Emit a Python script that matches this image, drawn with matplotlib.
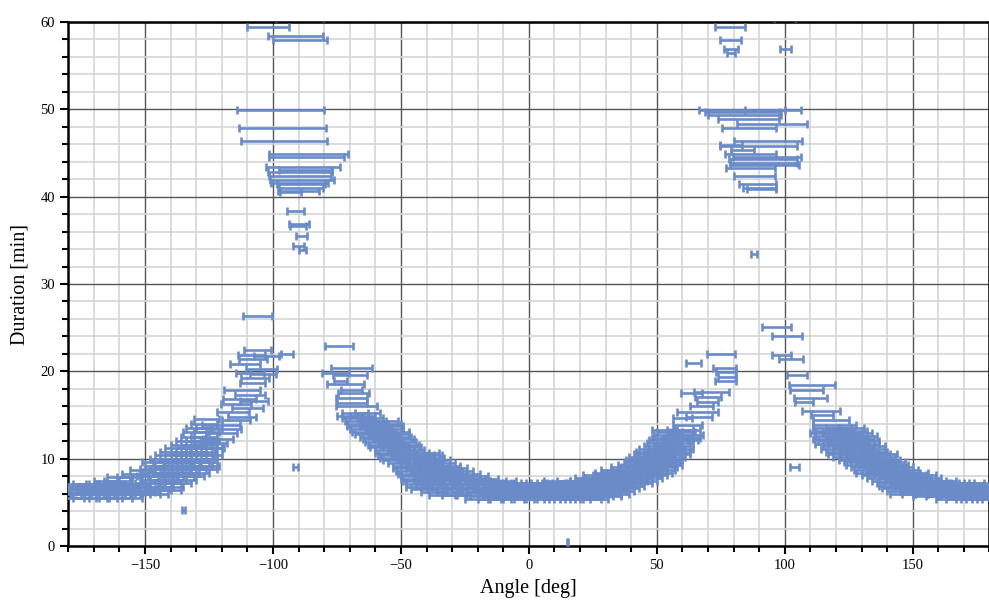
import numpy as np
import matplotlib
matplotlib.use('Agg')
import matplotlib.pyplot as plt
from matplotlib.ticker import MultipleLocator

# dense part of the bands: (duration [min], bar centres [deg]), half width 5 deg
band_width = 5.0
band_rows = [
    # left flat part
    (7.1, [-177, -173, -168, -164, -160, -156, -153]),
    (6.8, [-179, -175, -171, -166, -162, -158, -154]),
    (6.5, [-178, -174, -169, -165, -161, -157]),
    (6.2, [-176, -172, -168, -163, -159, -155, -151]),
    (5.9, [-179, -174, -170, -166, -161, -157, -153]),
    (5.5, [-177, -173, -169, -164, -160, -156]),
    (7.5, [-165, -161]), (7.9, [-160, -156]), (8.3, [-154]), (8.7, [-151]),
    # left rise
    (6.0, [-149, -146]),
    (6.4, [-150, -145, -141]),
    (6.8, [-148, -144, -140]),
    (7.2, [-149, -145, -141, -137]),
    (7.6, [-147, -143, -139, -135]),
    (8.0, [-148, -144, -140, -136, -132]),
    (8.4, [-146, -142, -138, -134, -130]),
    (8.8, [-147, -143, -139, -135, -131, -127]),
    (9.2, [-145, -141, -137, -133, -129, -126]),
    (9.6, [-146, -142, -138, -134, -130, -127]),
    (10.0, [-143, -139, -135, -131, -127]),
    (10.4, [-141, -137, -133, -129, -125]),
    (10.8, [-139, -135, -131, -127]),
    (11.2, [-137, -133, -129, -125]),
    (11.6, [-135, -131, -127]),
    (12.0, [-133, -129, -126]),
    (12.5, [-131, -127]),
    (13.0, [-130, -126]),
    (13.5, [-129, -125]),
    (14.0, [-127]),
    (14.5, [-126]),
    # left fall
    (15.2, [-68, -63]),
    (14.9, [-70, -65]),
    (14.6, [-68, -62]),
    (14.3, [-67, -61, -56]),
    (14.0, [-66, -60, -55]),
    (13.7, [-66, -61, -54]),
    (13.4, [-65, -59, -54]),
    (13.1, [-64, -58, -52]),
    (12.8, [-63, -57, -52]),
    (12.5, [-61, -56, -51]),
    (12.2, [-60, -55, -50]),
    (11.9, [-59, -54, -49]),
    (11.6, [-58, -53, -48]),
    (11.3, [-57, -52, -47]),
    (11.0, [-55, -50, -46]),
    (10.7, [-55, -49, -44, -40]),
    (10.4, [-54, -48, -42, -39]),
    (10.1, [-53, -47, -42, -38]),
    (9.8, [-52, -46, -40, -36]),
    (9.5, [-50, -45, -39, -34]),
    (9.2, [-48, -42, -36, -32]),
    (8.9, [-48, -43, -37, -32, -29]),
    (8.6, [-47, -41, -35, -31, -27]),
    (8.3, [-46, -40, -34, -29, -24]),
    (8.0, [-45, -39, -33, -27, -21]),
    (7.7, [-45, -40, -34, -28, -22, -17]),
    (7.4, [-44, -38, -32, -26, -20]),
    (7.1, [-43, -39, -34, -29, -23, -18]),
    (6.8, [-43, -37, -31, -25, -19]),
    (6.5, [-41, -35, -29, -23, -17]),
    (6.2, [-37, -31, -25, -19]),
    (5.8, [-34, -29, -23]),
    # centre
    (7.5, [-14, -10, 11, 16]),
    (7.2, [-15, -11, -6, -2, 2, 6, 10, 14]),
    (6.9, [-13, -9, -4, 0, 4, 8, 12, 16]),
    (6.6, [-16, -12, -7, -3, 1, 5, 9, 13]),
    (6.3, [-14, -10, -6, -1, 3, 7, 11, 15]),
    (6.0, [-15, -11, -7, -3, 2, 6, 10, 14]),
    (5.7, [-18, -13, -8, -4, 0, 4, 8, 12, 16]),
    (5.4, [-20, -15, -11, -6, -2, 3, 7, 11, 15]),
    # right rise
    (5.4, [19, 23, 26]),
    (5.7, [20, 24, 28, 31]),
    (6.0, [19, 23, 27, 31, 34]),
    (6.3, [21, 25, 29, 33, 36]),
    (6.6, [18, 22, 26, 30, 34, 38]),
    (6.9, [20, 24, 28, 32, 36, 40]),
    (7.2, [19, 23, 27, 31, 35, 39, 43]),
    (7.5, [21, 25, 29, 33, 37, 41, 45]),
    (7.8, [23, 27, 31, 35, 39, 43, 47]),
    (8.1, [26, 30, 34, 38, 42, 46, 49]),
    (8.4, [31, 35, 39, 43, 47, 51]),
    (8.7, [33, 37, 41, 45, 49, 52]),
    (9.0, [37, 41, 45, 49, 53]),
    (9.3, [40, 44, 48, 52, 55]),
    (9.6, [42, 46, 50, 54]),
    (9.9, [43, 47, 51, 55]),
    (10.2, [44, 48, 52, 56]),
    (10.5, [46, 50, 54, 58]),
    (10.8, [47, 51, 55, 58]),
    (11.1, [48, 52, 56, 59]),
    (11.5, [50, 54, 58]),
    (11.8, [51, 55, 59]),
    (12.1, [52, 57, 61]),
    (12.4, [53, 58, 62]),
    (12.7, [54, 59, 63]),
    (13.0, [55, 60]),
    (13.3, [53, 59, 62]),
    # right fall
    (13.5, [116, 121, 126]),
    (13.2, [117, 122, 127]),
    (12.9, [115, 120, 125, 129]),
    (12.6, [117, 122, 127, 131]),
    (12.3, [116, 121, 126, 130]),
    (12.0, [118, 123, 128, 132]),
    (11.7, [117, 122, 127, 132]),
    (11.4, [120, 125, 130, 134]),
    (11.1, [119, 124, 129, 134]),
    (10.8, [121, 126, 131, 135]),
    (10.5, [122, 127, 132, 136, 139]),
    (10.2, [124, 129, 134, 138]),
    (9.9, [126, 131, 136, 140]),
    (9.6, [128, 133, 138, 142]),
    (9.3, [129, 134, 139, 143]),
    (9.0, [131, 136, 141, 145]),
    (8.7, [132, 137, 142, 147]),
    (8.4, [133, 138, 143, 148, 151]),
    (8.1, [135, 140, 145, 150, 154]),
    (7.8, [137, 142, 147, 152, 156]),
    (7.5, [139, 144, 149, 154, 158, 162]),
    (7.2, [141, 146, 150, 155, 160, 165, 169, 173, 177]),
    (6.9, [142, 147, 152, 157, 162, 166, 171, 175, 179]),
    (6.6, [143, 148, 153, 158, 163, 167, 172, 176, 180]),
    (6.3, [145, 150, 155, 160, 164, 169, 174, 178]),
    (6.0, [146, 151, 156, 161, 166, 170, 175, 179]),
    (5.7, [155, 160, 165, 169, 174, 178]),
    (5.4, [164, 168, 172, 176, 180]),
]

# single bars: (angle [deg], half width [deg], duration [min])
left_rise = [
    (-106.1, 5.6, 26.3), (-106.1, 5.2, 22.4), (-94.4, 2.3, 22.0), (-108.5, 5.3, 21.9), (-102.5, 5.0, 21.8),
    (-107.8, 5.6, 21.4), (-111.0, 5.8, 20.8), (-104.5, 6.0, 20.3), (-109.0, 5.5, 19.8), (-104.0, 5.0, 19.7),
    (-107.0, 5.6, 19.2), (-108.0, 5.0, 18.7), (-112.0, 7.0, 17.9), (-109.0, 6.0, 17.3), (-113.0, 6.5, 16.8),
    (-107.5, 5.5, 16.6), (-114.5, 6.0, 16.3), (-110.0, 6.0, 15.8), (-115.5, 6.2, 15.3), (-112.0, 5.5, 14.8),
    (-114.5, 5.5, 14.4), (-120.4, 7.5, 13.9), (-118.5, 6.0, 13.4), (-120.0, 6.0, 12.9), (-121.5, 6.0, 12.3),
    (-123.5, 5.5, 11.8), (-124.5, 5.5, 11.2), (-127.5, 5.0, 10.6), (-128.5, 5.5, 10.0),
]
left_fall = [
    (-74.2, 5.4, 22.9), (-69.4, 8.1, 20.4), (-75.5, 5.2, 19.8), (-69.8, 6.6, 19.6), (-73.6, 2.5, 18.9),
    (-71.8, 7.2, 18.5), (-69.5, 4.1, 17.9), (-68.6, 6.0, 17.5), (-69.2, 6.0, 16.9), (-69.0, 5.8, 16.4),
    (-67.5, 8.0, 16.0),
]
left_top = [
    (-102.0, 8.2, 59.4), (-89.7, 9.1, 60.5), (-79.0, 5.9, 60.6), (-91.2, 10.7, 58.4), (-89.5, 10.6, 57.9),
    (-97.1, 17.1, 49.9), (-96.3, 17.0, 47.9), (-95.7, 16.8, 46.4), (-86.2, 15.4, 44.9), (-86.9, 14.6, 44.5),
    (-88.2, 14.4, 43.4), (-87.3, 10.4, 43.1), (-89.5, 12.5, 42.8), (-89.6, 12.1, 42.4), (-88.5, 12.5, 41.9),
    (-89.6, 11.1, 41.6), (-88.9, 9.4, 41.4), (-89.0, 8.6, 41.0), (-89.9, 8.0, 40.7), (-93.2, 4.2, 40.5),
    (-91.3, 3.4, 38.4), (-89.9, 3.9, 36.9), (-90.2, 3.2, 36.6), (-88.9, 2.2, 35.5), (-90.0, 2.0, 34.4),
    (-88.5, 1.4, 33.9),
]
right_rise = [
    (75.0, 5.5, 22.0), (64.3, 3.0, 20.9), (76.5, 4.5, 20.4), (77.0, 4.0, 19.9), (77.5, 3.6, 19.4),
    (76.8, 4.0, 18.9), (63.5, 4.0, 17.5), (71.5, 6.8, 17.6), (70.0, 5.2, 17.1), (69.8, 4.2, 16.5),
    (67.5, 4.6, 16.0), (65.8, 8.0, 15.4), (60.0, 3.8, 14.7), (66.5, 5.0, 14.8), (62.0, 5.5, 13.9),
]
right_fall = [
    (96.8, 5.6, 25.1), (101.0, 5.8, 24.0), (98.9, 3.7, 21.9), (102.4, 4.7, 21.4), (104.6, 3.9, 19.6),
    (110.5, 9.0, 18.4), (108.5, 6.5, 17.9), (110.0, 6.4, 16.9), (107.5, 3.5, 16.5), (114.2, 7.3, 15.5),
    (114.5, 4.2, 15.0), (118.0, 7.0, 14.4), (119.5, 8.3, 13.8),
]
right_top = [
    (78.6, 5.9, 59.4), (99.8, 4.1, 60.5), (78.7, 4.1, 57.9), (78.9, 2.7, 56.9), (78.9, 1.6, 56.4),
    (100.2, 2.1, 56.9), (83.2, 16.8, 49.9), (95.4, 11.0, 49.95), (83.5, 14.6, 49.7), (84.3, 14.2, 49.4),
    (85.8, 12.0, 48.9), (95.0, 13.6, 48.3), (86.0, 10.6, 47.9), (93.5, 13.4, 46.4), (79.0, 4.2, 45.9),
    (89.8, 15.0, 45.8), (83.3, 4.5, 45.3), (86.6, 10.0, 44.9), (93.0, 13.4, 44.6), (91.5, 13.3, 44.3),
    (91.6, 13.1, 43.9), (92.0, 13.5, 43.6), (86.6, 9.5, 43.3), (88.1, 8.0, 42.4), (89.3, 7.2, 41.4),
    (90.1, 6.4, 41.0), (91.0, 5.6, 40.9), (88.0, 1.3, 33.4),
]
outliers = [(-91.1, 1.0, 9.0), (-135.0, 0.6, 4.1), (103.9, 1.7, 9.0), (15.1, 0.05, 0.5)]

ang, err, dur = [], [], []
for d, centres in band_rows:
    for c in centres:
        ang.append(c)
        err.append(band_width)
        dur.append(d)
for group in [left_rise, left_fall, left_top, right_rise, right_fall, right_top, outliers]:
    for a, e, d in group:
        ang.append(a)
        err.append(e)
        dur.append(d)
ang = np.array(ang)
err = np.array(err)
dur = np.array(dur)

plt.rcParams['font.family'] = ['Liberation Serif', 'DejaVu Serif']

fig = plt.figure(figsize=(9.89, 6.0), dpi=100)
ax = fig.add_axes([0.069, 0.09, 0.9315, 0.8733])

ax.errorbar(ang, dur, xerr=err, fmt='none', ecolor='#6a8bc8', elinewidth=1.9,
            capsize=3.1, capthick=1.9, zorder=3)

ax.set_xlim(-180, 180)
ax.set_ylim(0, 60)
ax.xaxis.set_major_locator(MultipleLocator(50))
ax.xaxis.set_minor_locator(MultipleLocator(10))
ax.yaxis.set_major_locator(MultipleLocator(10))
ax.yaxis.set_minor_locator(MultipleLocator(2))

ax.grid(which='major', color='#555555', linewidth=1.0, zorder=1)
ax.grid(which='minor', color='#d4d4d4', linewidth=1.2, zorder=0)
ax.set_axisbelow(True)

ax.tick_params(which='major', direction='out', length=6, width=1.5, labelsize=10.5)
ax.tick_params(which='minor', direction='out', length=4, width=1.5)
for s in ax.spines.values():
    s.set_linewidth(1.8)

ax.set_xlabel('Angle [deg]', fontsize=14.5, labelpad=5)
ax.set_ylabel('Duration [min]', fontsize=14.5, labelpad=8)

fig.savefig('out.png', dpi=100)
